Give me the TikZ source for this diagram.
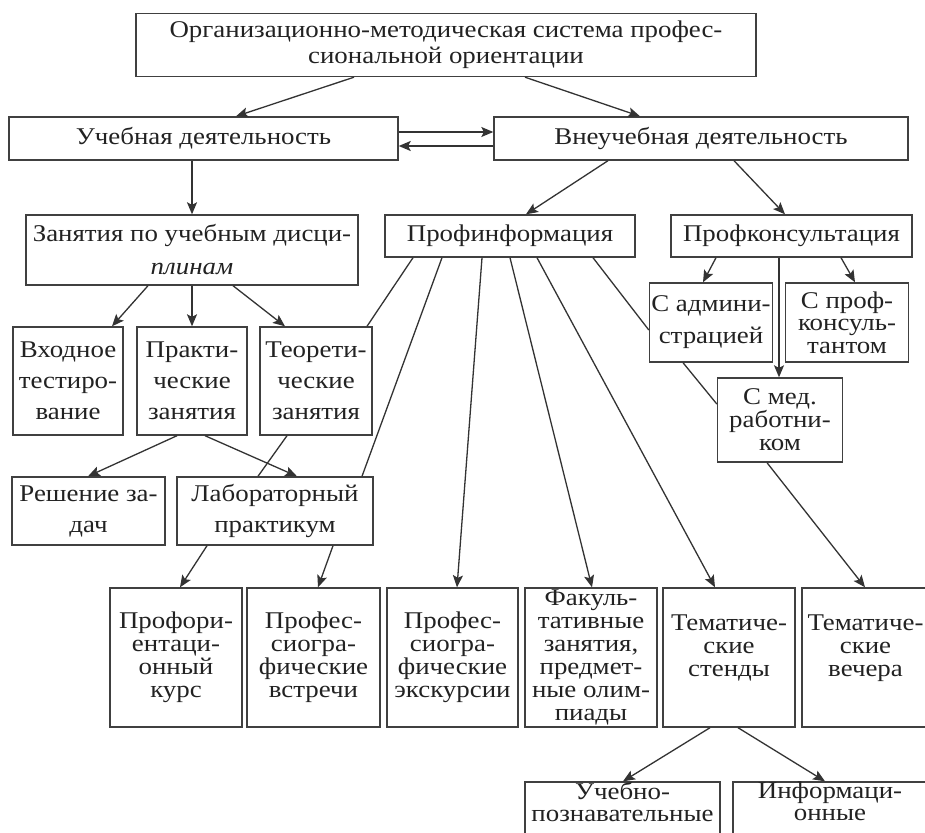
\documentclass[tikz,border=0pt]{standalone}
\usepackage{fontspec}
\setmainfont{Liberation Serif}[FakeStretch=1.12]
\usetikzlibrary{arrows.meta}
\definecolor{boxc}{HTML}{404040}
\definecolor{linec}{HTML}{333333}
\definecolor{txtc}{HTML}{222222}
\begin{document}
\begin{tikzpicture}[x=1pt,y=-1pt,
  box/.style={draw=boxc, line width=1.4pt, inner sep=0pt, align=center, text=txtc},
  lead/.style={font=\fontsize{24}{#1}\selectfont},
  txt/.style={inner sep=0pt, align=center, text=txtc},
  arr/.style={draw=linec, line width=1.3pt, -{Stealth[length=12pt,width=10pt,inset=2.5pt]}},
  ln/.style={draw=linec, line width=1.3pt}]
\useasboundingbox (0,0) rectangle (925,832);
\fill[white] (0,0) rectangle (925,832);
\clip (0,0) rectangle (925,832);

% level 0
\node[box, lead=26, minimum width=620, minimum height=63] (top) at (446,45)
  {Организационно-методическая система профес-\\сиональной ориентации};
% level 1
\node[box, lead=26, minimum width=389, minimum height=43] (ucheb) at (203.5,138.5) {Учебная деятельность};
\node[box, lead=26, minimum width=414, minimum height=43] (vneu) at (701,138.5) {Внеучебная деятельность};
% level 2
\node[box, lead=33, minimum width=332, minimum height=70] (zan) at (192,250)
  {Занятия по учебным дисци-\\\textit{плинам}};
\node[box, lead=26, minimum width=250, minimum height=42] (profinf) at (510,236) {Профинформация};
\node[box, lead=26, minimum width=241, minimum height=42] (profk) at (791.5,236) {Профконсультация};
% level 3
\node[box, lead=31, minimum width=110, minimum height=108] (vhod) at (68,381) {Входное\\тестиро-\\вание};
\node[box, lead=31, minimum width=110, minimum height=108] (prakt) at (192,381) {Практи-\\ческие\\занятия};
\node[box, lead=31, minimum width=112, minimum height=108] (teor) at (316,381) {Теорети-\\ческие\\занятия};
\node[box, lead=32, minimum width=123, minimum height=79] (admin) at (711,322.5) {С админи-\\страцией};
\node[box, lead=22.5, minimum width=123, minimum height=79] (profc) at (847,322.5) {С проф-\\консуль-\\тантом};
\node[box, lead=23, minimum width=125, minimum height=84] (med) at (780,420) {С мед.\\работни-\\ком};
% level 4
\node[box, lead=31, minimum width=153, minimum height=68] (resh) at (88.5,511) {Решение за-\\дач};
\node[box, lead=31, minimum width=196, minimum height=68] (lab) at (275,511) {Лабораторный\\практикум};
% bottom row
\node[box, lead=23, minimum width=132, minimum height=139] (pfo) at (176,657.5) {Профори-\\ентаци-\\онный\\курс};
\node[box, lead=23, minimum width=133, minimum height=139] (vst) at (313.5,657.5) {Профес-\\сиогра-\\фические\\встречи};
\node[box, lead=23, minimum width=131, minimum height=139] (eks) at (452.5,657.5) {Профес-\\сиогра-\\фические\\экскурсии};
\node[box, lead=23, minimum width=132, minimum height=139] (fak) at (591,657.5) {Факуль-\\тативные\\занятия,\\предмет-\\ные олим-\\пиады};
\node[box, lead=23, minimum width=132, minimum height=139] (tst) at (729,657.5) {Тематиче-\\ские\\стенды\\\mbox{}};
\node[box, lead=23, minimum width=127, minimum height=139] (tv) at (865.5,657.5) {Тематиче-\\ские\\вечера\\\mbox{}};
% last row (cut by the page edge)
\node[box, minimum width=195, minimum height=100] (uch) at (622.5,832) {};
\node[box, minimum width=194, minimum height=100] (inf) at (830,832) {};
\node[txt, lead=22, anchor=north] (uchT) at (622.5,782) {Учебно-\\познавательные};
\node[txt, lead=22, anchor=north] (infT) at (830,782) {Информаци-\\онные};

% connectors
\draw[arr] (top.south -| 354,0) -- (ucheb.north -| 236,0);
\draw[arr] (top.south -| 525,0) -- (vneu.north -| 640,0);
\draw[arr] (ucheb.east |- 0,132) -- (vneu.west |- 0,132);
\draw[arr] (vneu.west |- 0,146) -- (ucheb.east |- 0,146);
\draw[arr] (ucheb.south -| zan.north) -- (zan.north);
\draw[arr] (vneu.south -| 608,0) -- (profinf.north -| 526,0);
\draw[arr] (vneu.south -| 734,0) -- (profk.north -| 785,0);
\draw[arr] (zan.south -| 148,0) -- (vhod.north -| 112,0);
\draw[arr] (zan.south) -- (prakt.north);
\draw[arr] (zan.south -| 233,0) -- (teor.north -| 285,0);
\draw[arr] (prakt.south -| 177,0) -- (resh.north -| 88,0);
\draw[arr] (prakt.south -| 205,0) -- (lab.north -| 297,0);
\draw[ln] (teor.south -| 287,0) -- (lab.north -| 258,0);
\draw[ln] (profinf.south -| 413,0) -- (teor.north -| 367,0);
\draw[ln] (profinf.south -| 442,0) -- (lab.north -| 362,0);
\draw[arr] (profinf.south -| 482,0) -- (eks.north -| 457,0);
\draw[arr] (profinf.south -| 510,0) -- (fak.north -| 592,0);
\draw[arr] (profinf.south -| 537,0) -- (tst.north -| 715,0);
\draw[ln] (profinf.south -| 593,0) -- (admin.west |- 0,330);
\draw[arr] (profk.south -| 716,0) -- (admin.north -| 703,0);
\draw[arr] (profk.south -| 841,0) -- (profc.north -| 855,0);
\draw[arr] (profk.south -| 779,0) -- (med.north -| 779,0);
\draw[ln] (admin.south -| 683,0) -- (med.west |- 0,404);
\draw[arr] (med.south -| 767,0) -- (tv.north -| 865,0);
\draw[arr] (lab.south -| 207,0) -- (pfo.north -| 180,0);
\draw[arr] (lab.south -| 333,0) -- (vst.north -| 318,0);
\draw[arr] (tst.south -| 710,0) -- (uch.north -| 623,0);
\draw[arr] (tst.south -| 738,0) -- (inf.north -| 825,0);
\end{tikzpicture}
\end{document}
